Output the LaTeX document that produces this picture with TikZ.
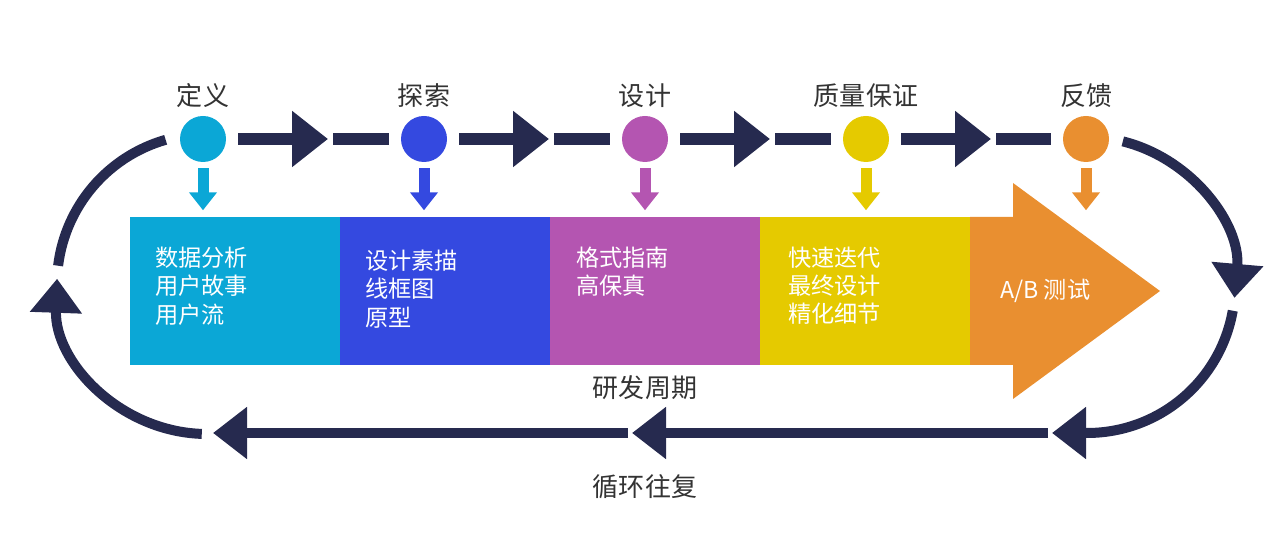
\documentclass[tikz,border=0pt]{standalone}
\usepackage{fontspec}
\setmainfont{Noto Sans CJK SC}
\usepackage{xcolor}
\usetikzlibrary{positioning,arrows.meta,calc}
\definecolor{navy}{HTML}{262A4F}
\definecolor{cyanS}{HTML}{0BA7D6}
\definecolor{blueS}{HTML}{3449E0}
\definecolor{purpS}{HTML}{B455B1}
\definecolor{yelS}{HTML}{E5CA00}
\definecolor{orgS}{HTML}{E98F30}
\tikzset{
  dot/.style={circle, fill=#1, minimum size=11.5mm, inner sep=0pt},
  blk/.style={fill=#1, minimum height=37mm, minimum width=52.5mm, inner sep=0pt, outer sep=0pt},
  ttl/.style={font=\fontsize{18.5}{21}\selectfont, text=black!80, inner sep=0pt},
  txt/.style={font=\fontsize{16.5}{20}\selectfont, text=white, align=left, inner sep=0pt},
  flow/.style={draw=navy, line width=3mm, -{Triangle[length=9mm,width=13.5mm]}},
  link/.style={draw=navy, line width=3mm},
  ret/.style={draw=navy, line width=2.5mm, -{Triangle[length=8.5mm,width=12.5mm]}},
  rim/.style={draw=navy, line width=2.5mm},
  drop/.style={draw=#1, line width=2.75mm, -{Triangle[length=4.5mm,width=6.75mm]}},
}
\begin{document}
\begin{tikzpicture}[x=0.25mm, y=0.25mm]
\useasboundingbox (0,0) rectangle (1280,560);
\foreach \n/\x/\c/\t in {d1/203/cyanS/定义, d2/424/blueS/探索, d3/645/purpS/设计, d4/866/yelS/质量保证, d5/1086/orgS/反馈}{
  \node[dot=\c] (\n) at (\x,421) {};
  \node[ttl, above=2mm of \n] (t\n) {\t};
  \draw[drop=\c] ([yshift=-1.5mm]\n.south) -- ++(0,-10.5mm);
}
\node[blk=cyanS, anchor=south west] (b1) at (130,195) {};
\node[blk=blueS, right=0pt of b1] (b2) {};
\node[blk=purpS, right=0pt of b2] (b3) {};
\node[blk=yelS, right=0pt of b3] (b4) {};
\fill[orgS] (b4.north east) -- ++(43,0) -- ++(0,34) -- (1160,269) -- (1013,161) -- ++(0,34) -- (b4.south east) -- cycle;
\node[txt, anchor=north west] (x1) at ([shift={(6.25mm,-7.5mm)}]b1.north west) {数据分析\\用户故事\\用户流};
\node[txt, anchor=north west] (x2) at ([shift={(6.25mm,-8.25mm)}]b2.north west) {设计素描\\线框图\\原型};
\node[txt, anchor=north west] (x3) at ([shift={(6.5mm,-7.5mm)}]b3.north west) {格式指南\\高保真};
\node[txt, anchor=north west] (x4) at ([shift={(7mm,-7.5mm)}]b4.north west) {快速迭代\\最终设计\\精化细节};
\node[txt, anchor=west] (x5) at ([xshift=7.5mm]b4.east) {A/B 测试};
\foreach \a/\b in {d1/d2, d2/d3, d3/d4, d4/d5}{
  \draw[flow] ([xshift=3mm]\a.east) -- ([xshift=31.25mm]\a.center) coordinate (h\a);
  \draw[link] ([xshift=1.25mm]h\a) -- ([xshift=-3mm]\b.west);
}
\coordinate (lc) at (207,276);
\coordinate (rc) at (1087,275);
\coordinate (e1) at (1052,127);
\coordinate (e2) at (632,127);
\coordinate (e3) at (213,127);
\draw[rim] ($(lc)+(173:37.5mm)$) arc[start angle=173, end angle=106, radius=37.5mm];
\draw[ret] ($(lc)+(268:37.5mm)$) arc[start angle=268, end angle=178, radius=37.5mm];
\draw[ret] ($(rc)+(76:37mm)$) arc[start angle=76, end angle=-5, radius=37mm];
\draw[ret] ($(rc)+(-10:37mm)$) arc[start angle=-10, end angle=-90, radius=37mm] -- (e1);
\draw[ret] ([xshift=-1mm]e1) -- (e2);
\draw[ret] ([xshift=-1mm]e2) -- (e3);
\node[ttl] (cyc) at (645,172) {研发周期};
\node[ttl] (rep) at (645,73) {循环往复};
\end{tikzpicture}
\end{document}
